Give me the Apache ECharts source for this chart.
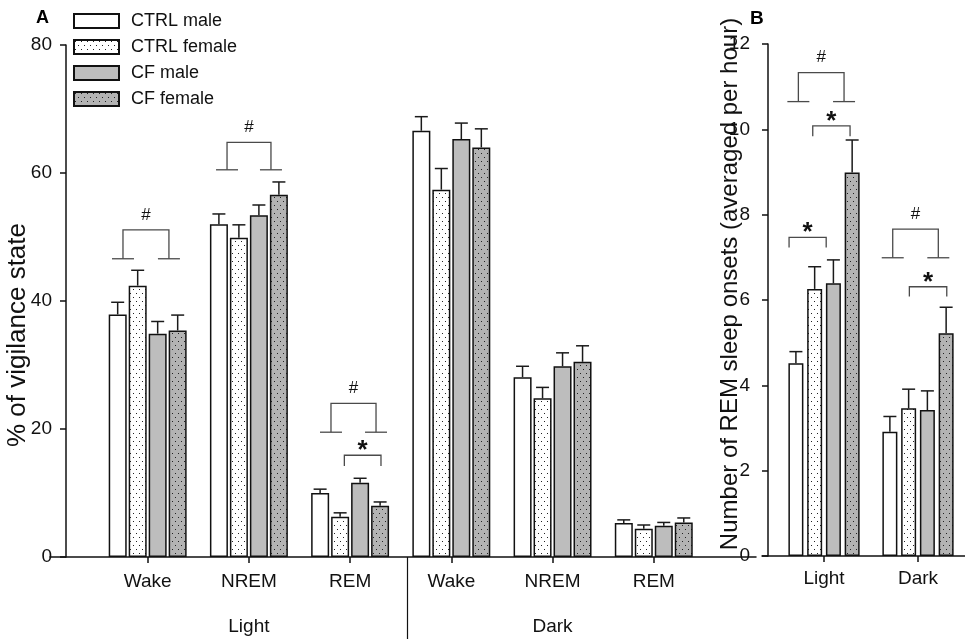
<!DOCTYPE html>
<html><head><meta charset="utf-8">
<script src="https://cdn.jsdelivr.net/npm/echarts@6/dist/echarts.min.js"></script>
<style>html,body{margin:0;padding:0;background:#fff}#c{width:965px;height:639px}</style>
</head><body><div id="c"></div>
<script>
// ---------- DATA ----------
const seriesNames = ['CTRL male', 'CTRL female', 'CF male', 'CF female'];
const catsA = ['Wake', 'NREM', 'REM', 'Wake', 'NREM', 'REM'];
const phaseLabels = ['Light', 'Dark'];
const catsB = ['Light', 'Dark'];
const ticksA = [0, 20, 40, 60, 80];
const ticksB = [0, 2, 4, 6, 8, 10, 12];

// Panel A: % of vigilance state (mean) per category
const ctrlMaleA   = [37.9, 52.0, 10.0, 66.6, 28.1, 5.3];
const ctrlFemaleA = [42.4, 49.9, 6.3, 57.4, 24.8, 4.4];
const cfMaleA     = [34.9, 53.4, 11.6, 65.3, 29.8, 4.9];
const cfFemaleA   = [35.4, 56.6, 8.0, 64.0, 30.5, 5.4];
// Panel A: upper end of error bars
const ctrlMaleAHi   = [39.8, 53.6, 10.6, 68.8, 29.8, 5.8];
const ctrlFemaleAHi = [44.8, 51.9, 6.9, 60.7, 26.5, 5.0];
const cfMaleAHi     = [36.8, 55.0, 12.3, 67.8, 31.9, 5.4];
const cfFemaleAHi   = [37.8, 58.6, 8.6, 66.9, 33.0, 6.1];

// Panel B: number of REM sleep onsets per hour
const ctrlMaleB   = [4.52, 2.91];
const ctrlFemaleB = [6.26, 3.46];
const cfMaleB     = [6.39, 3.42];
const cfFemaleB   = [8.99, 5.22];
const ctrlMaleBHi   = [4.79, 3.27];
const ctrlFemaleBHi = [6.78, 3.91];
const cfMaleBHi     = [6.94, 3.87];
const cfFemaleBHi   = [9.75, 5.83];

// Significance brackets: [left x, right x, top y, leg-end y] (axis units)
const hashBracketsA = [[-0.244, 0.210, 51.1, 46.6], [0.784, 1.218, 64.8, 60.5], [1.811, 2.256, 24.0, 19.5]];
const starBracketsA = [[1.943, 2.305, 15.9, 14.2]];
const hashBracketsB = [[-0.273, 0.213, 11.33, 10.65], [0.731, 1.216, 7.66, 6.99]];
const starBracketsB = [[-0.12, 0.277, 10.08, 9.84], [-0.372, 0.023, 7.47, 7.23], [0.908, 1.306, 6.31, 6.08]];
const phaseLabelPos = [1, 4];
const phaseDivider = [2.56];

// ---------- STYLE ----------
const FONT = 'Liberation Sans, Arial, sans-serif';
function dots(bg, dot) {
  const c = document.createElement('canvas');
  c.width = 6; c.height = 8;
  const g = c.getContext('2d');
  g.fillStyle = bg; g.fillRect(0, 0, 6, 8);
  g.fillStyle = dot; g.fillRect(1, 1, 1, 1); g.fillRect(4, 5, 1, 1);
  return { image: c, repeat: 'repeat' };
}
const fills = ['#ffffff', dots('#ffffff', '#222'), '#bdbdbd', dots('#b3b3b3', '#222')];

const meansA = [ctrlMaleA, ctrlFemaleA, cfMaleA, cfFemaleA];
const hiA = [ctrlMaleAHi, ctrlFemaleAHi, cfMaleAHi, cfFemaleAHi];
const meansB = [ctrlMaleB, ctrlFemaleB, cfMaleB, cfFemaleB];
const hiB = [ctrlMaleBHi, ctrlFemaleBHi, cfMaleBHi, cfFemaleBHi];

const chart = echarts.init(document.getElementById('c'), null, { renderer: 'canvas' });

function errRender(pitch) {
  return function (params, api) {
    const x = api.value(0), top = api.value(1), hi = api.value(2), s = api.value(3);
    const p0 = api.coord([x, top]), p1 = api.coord([x, hi]);
    const cx = p0[0] + (s - 1.5) * pitch;
    const st = { stroke: '#1a1a1a', lineWidth: 1.5 };
    return { type: 'group', children: [
      { type: 'line', shape: { x1: cx, y1: p0[1], x2: cx, y2: p1[1] }, style: st },
      { type: 'line', shape: { x1: cx - 6.5, y1: p1[1], x2: cx + 6.5, y2: p1[1] }, style: st }
    ]};
  };
}
function bracketRender(kind) {
  return function (params, api) {
    const L = api.coord([api.value(0), api.value(2)]);
    const R = api.coord([api.value(1), api.value(2)]);
    const Lb = api.coord([api.value(0), api.value(3)]);
    const Rb = api.coord([api.value(1), api.value(3)]);
    const st = { stroke: '#4a4a4a', lineWidth: 1.3, fill: null };
    const ch = [{ type: 'polyline', shape: { points: [Lb, L, R, Rb] }, style: st }];
    const mx = (L[0] + R[0]) / 2;
    if (kind === '#') {
      ch.push({ type: 'line', shape: { x1: Lb[0] - 11, y1: Lb[1], x2: Lb[0] + 11, y2: Lb[1] }, style: st });
      ch.push({ type: 'line', shape: { x1: Rb[0] - 11, y1: Rb[1], x2: Rb[0] + 11, y2: Rb[1] }, style: st });
      ch.push({ type: 'text', x: mx, y: L[1] - 15, style: { text: '#', fontSize: 17, fontFamily: FONT, fill: '#111', align: 'center', verticalAlign: 'middle' } });
    } else {
      ch.push({ type: 'text', x: mx, y: L[1] - 4, style: { text: '*', fontSize: 26, fontWeight: 'bold', fontFamily: FONT, fill: '#111', align: 'center', verticalAlign: 'middle' } });
    }
    return { type: 'group', children: ch };
  };
}

const series = [];
seriesNames.forEach((name, s) => {
  series.push({
    name, type: 'bar', xAxisIndex: 0, yAxisIndex: 0, barWidth: 18, barGap: '11%',
    itemStyle: { color: fills[s], borderColor: '#111', borderWidth: 1.5 },
    data: meansA[s].map((v, i) => [i, v]), z: 2
  });
});
seriesNames.forEach((name, s) => {
  series.push({
    name, type: 'bar', xAxisIndex: 2, yAxisIndex: 1, barWidth: 15, barGap: '25%',
    itemStyle: { color: fills[s], borderColor: '#111', borderWidth: 1.5 },
    data: meansB[s].map((v, i) => [i, v]), z: 2
  });
});
const errA = [], errB = [];
meansA.forEach((arr, s) => arr.forEach((v, i) => errA.push([i, v, hiA[s][i], s])));
meansB.forEach((arr, s) => arr.forEach((v, i) => errB.push([i, v, hiB[s][i], s])));
series.push({ type: 'custom', xAxisIndex: 0, yAxisIndex: 0, renderItem: errRender(20), data: errA, encode: { x: 0, y: [1, 2] }, z: 3, silent: true });
series.push({ type: 'custom', xAxisIndex: 2, yAxisIndex: 1, renderItem: errRender(18.75), data: errB, encode: { x: 0, y: [1, 2] }, z: 3, silent: true });
series.push({ type: 'custom', xAxisIndex: 0, yAxisIndex: 0, renderItem: bracketRender('#'), data: hashBracketsA, encode: { x: [0, 1], y: [2, 3] }, z: 3, silent: true });
series.push({ type: 'custom', xAxisIndex: 0, yAxisIndex: 0, renderItem: bracketRender('*'), data: starBracketsA, encode: { x: [0, 1], y: [2, 3] }, z: 3, silent: true });
series.push({ type: 'custom', xAxisIndex: 2, yAxisIndex: 1, renderItem: bracketRender('#'), data: hashBracketsB, encode: { x: [0, 1], y: [2, 3] }, z: 3, silent: true });
series.push({ type: 'custom', xAxisIndex: 2, yAxisIndex: 1, renderItem: bracketRender('*'), data: starBracketsB, encode: { x: [0, 1], y: [2, 3] }, z: 3, silent: true });

const axisLineX = { show: true, onZero: false, lineStyle: { color: '#111', width: 1.5 } };
const axisLineY = { show: true, onZero: false, lineStyle: { color: '#111', width: 1.5 } };
const txt = { color: '#111', fontFamily: FONT };

chart.setOption({
  animation: false,
  backgroundColor: '#fff',
  title: [
    { text: 'A', left: 36, top: 9, padding: 0, textStyle: { fontSize: 18, fontWeight: 'bold', color: '#000', fontFamily: FONT } },
    { text: 'B', left: 750, top: 9, padding: 0, textStyle: { fontSize: 19, fontWeight: 'bold', color: '#000', fontFamily: FONT } }
  ],
  legend: {
    data: seriesNames, orient: 'vertical', left: 73, top: 12, padding: 0,
    itemWidth: 45, itemHeight: 14, itemGap: 8, icon: 'rect',
    textStyle: { fontSize: 18, color: '#111', fontFamily: FONT, padding: [0, 0, 0, 7] },
    selectedMode: false
  },
  grid: [
    { left: 50, top: 45, width: 706, height: 512, outerBoundsMode: 'none', containLabel: false },
    { left: 762, top: 44, width: 203, height: 512, outerBoundsMode: 'none', containLabel: false }
  ],
  xAxis: [
    { gridIndex: 0, type: 'value', min: -0.965, max: 6.01, axisLine: axisLineX,
      axisTick: { show: true, customValues: catsA.map((c, i) => i), length: 6, lineStyle: { color: '#111', width: 1.5 } },
      axisLabel: { customValues: catsA.map((c, i) => i), formatter: v => catsA[Math.round(v)], margin: 15, fontSize: 19, ...txt },
      splitLine: { show: false } },
    { gridIndex: 0, type: 'value', position: 'bottom', min: -0.965, max: 6.01, axisLine: { show: false, onZero: false },
      axisTick: { show: true, customValues: phaseDivider, length: 84, lineStyle: { color: '#111', width: 1.2 } },
      axisLabel: { customValues: phaseLabelPos, formatter: v => phaseLabels[phaseLabelPos.indexOf(v)], margin: 60, fontSize: 19, ...txt },
      splitLine: { show: false } },
    { gridIndex: 1, type: 'value', min: -0.66, max: 1.5, axisLine: axisLineX,
      axisTick: { show: true, customValues: catsB.map((c, i) => i), length: 6, lineStyle: { color: '#111', width: 1.5 } },
      axisLabel: { customValues: catsB.map((c, i) => i), formatter: v => catsB[Math.round(v)], margin: 13, fontSize: 19, ...txt },
      splitLine: { show: false } }
  ],
  yAxis: [
    { gridIndex: 0, type: 'value', min: 0, max: 80, interval: 20, offset: -16, axisLine: axisLineY,
      axisTick: { show: true, length: 6, lineStyle: { color: '#111', width: 1.5 } },
      axisLabel: { customValues: ticksA, margin: 14, fontSize: 19, ...txt },
      splitLine: { show: false },
      name: '% of vigilance state', nameLocation: 'middle', nameGap: 35, nameMoveOverlap: false,
      nameTextStyle: { fontSize: 26, ...txt, padding: [0, 68, 0, 0] } },
    { gridIndex: 1, type: 'value', min: 0, max: 12, interval: 2, offset: -6, axisLine: axisLineY,
      axisTick: { show: true, length: 6, lineStyle: { color: '#111', width: 1.5 } },
      axisLabel: { customValues: ticksB, margin: 18, fontSize: 19, ...txt },
      splitLine: { show: false },
      name: 'Number of REM sleep onsets (averaged per hour)', nameLocation: 'middle', nameGap: 26, nameMoveOverlap: false,
      nameTextStyle: { fontSize: 24, ...txt, padding: [0, 0, 0, 32] } }
  ],
  series
});
</script>
</body></html>
